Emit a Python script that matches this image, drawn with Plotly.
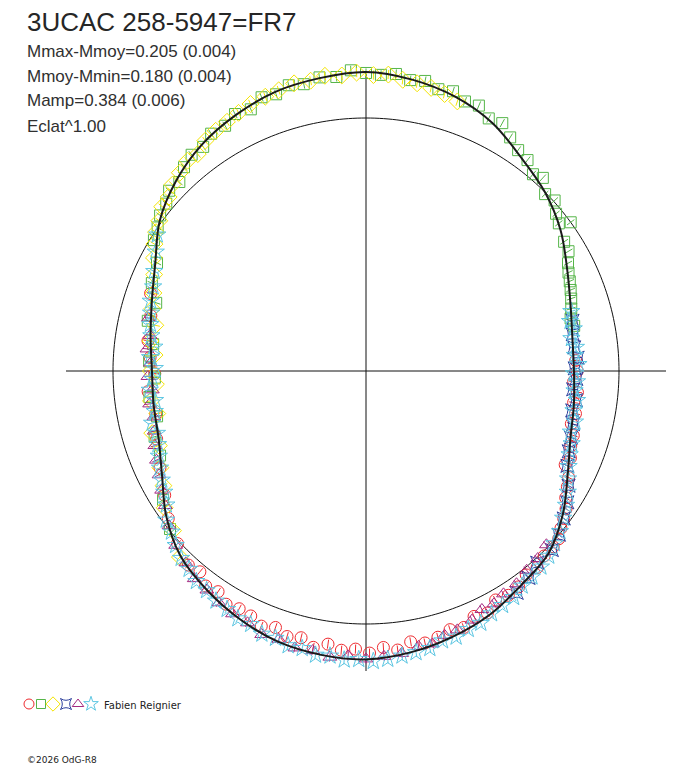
import numpy as np
import plotly.graph_objects as go

# relative brightness (flux / mean flux) against phase, one pair of lists per observer set
red_phase = [0.242, 0.250, 0.258, 0.266, 0.274, 0.282, 0.290, 0.298, 0.306, 0.314, 0.320, 0.327,
             0.333, 0.340, 0.346, 0.352, 0.358, 0.364, 0.370, 0.378, 0.386, 0.394, 0.402, 0.410,
             0.418, 0.426, 0.434, 0.442, 0.450, 0.458, 0.466, 0.474, 0.482, 0.490, 0.498, 0.506,
             0.514, 0.522, 0.530, 0.538, 0.546, 0.554, 0.562, 0.570, 0.578, 0.586, 0.594, 0.602,
             0.610, 0.618, 0.632, 0.648, 0.662, 0.680, 0.700, 0.718, 0.735, 0.748, 0.760, 0.772,
             0.790, 0.805]
red_flux = [0.830, 0.835, 0.822, 0.840, 0.830, 0.845, 0.838, 0.858, 0.862, 0.878, 0.870, 0.905,
            0.918, 0.935, 0.960, 0.975, 0.990, 1.010, 1.015, 1.015, 1.030, 1.025, 1.045, 1.050,
            1.040, 1.070, 1.060, 1.085, 1.075, 1.090, 1.100, 1.085, 1.110, 1.095, 1.115, 1.100,
            1.108, 1.090, 1.112, 1.085, 1.095, 1.075, 1.090, 1.070, 1.065, 1.075, 1.050, 1.060,
            1.030, 1.040, 1.010, 0.975, 0.935, 0.900, 0.870, 0.848, 0.865, 0.835, 0.855, 0.870,
            0.878, 0.905]

green_phase = [0.642, 0.660, 0.688, 0.702, 0.716, 0.731, 0.745, 0.757, 0.770, 0.786, 0.800, 0.812,
               0.826, 0.838, 0.846, 0.853, 0.861, 0.868, 0.876, 0.884, 0.892, 0.900, 0.908, 0.917,
               0.925, 0.934, 0.942, 0.950, 0.958, 0.966, 0.975, 0.984, 0.992, 0.000, 0.008, 0.016,
               0.024, 0.032, 0.040, 0.048, 0.056, 0.064, 0.072, 0.080, 0.088, 0.096, 0.104, 0.112,
               0.118, 0.126, 0.133, 0.140, 0.146, 0.150, 0.158, 0.165, 0.172, 0.178, 0.184, 0.190,
               0.196, 0.203, 0.210, 0.216]
green_flux = [0.995, 0.950, 0.880, 0.875, 0.845, 0.862, 0.835, 0.858, 0.848, 0.885, 0.872, 0.915,
              0.930, 0.985, 1.000, 1.020, 1.030, 1.055, 1.050, 1.080, 1.098, 1.095, 1.120, 1.118,
              1.140, 1.130, 1.158, 1.150, 1.170, 1.160, 1.175, 1.168, 1.190, 1.178, 1.172, 1.180,
              1.163, 1.170, 1.150, 1.158, 1.135, 1.140, 1.110, 1.118, 1.085, 1.060, 1.050, 1.020,
              1.035, 0.995, 1.005, 0.975, 0.960, 1.000, 0.935, 0.930, 0.905, 0.890, 0.880, 0.870,
              0.860, 0.848, 0.835, 0.842]

yellow_phase = [0.625, 0.640, 0.655, 0.668, 0.680, 0.695, 0.705, 0.718, 0.728, 0.740, 0.750, 0.762,
                0.772, 0.784, 0.795, 0.806, 0.818, 0.828, 0.836, 0.843, 0.850, 0.858, 0.865, 0.872,
                0.880, 0.888, 0.895, 0.903, 0.911, 0.919, 0.927, 0.935, 0.944, 0.952, 0.961, 0.970,
                0.978, 0.987, 0.995, 0.004, 0.012, 0.020, 0.028, 0.036, 0.044, 0.052]
yellow_flux = [1.040, 0.990, 0.962, 0.920, 0.898, 0.870, 0.880, 0.842, 0.858, 0.832, 0.850, 0.838,
               0.860, 0.852, 0.880, 0.895, 0.920, 0.950, 0.975, 0.995, 1.010, 1.035, 1.040, 1.062,
               1.075, 1.090, 1.085, 1.110, 1.120, 1.128, 1.138, 1.150, 1.155, 1.162, 1.172, 1.168,
               1.178, 1.172, 1.180, 1.170, 1.175, 1.160, 1.155, 1.148, 1.138, 1.125]

navy_phase = [0.212, 0.222, 0.232, 0.240, 0.248, 0.256, 0.264, 0.272, 0.280, 0.290, 0.300, 0.310,
              0.320, 0.332, 0.342, 0.352, 0.362, 0.372, 0.384, 0.394, 0.405]
navy_flux = [0.840, 0.830, 0.828, 0.838, 0.825, 0.832, 0.822, 0.838, 0.830, 0.845, 0.852, 0.862,
             0.880, 0.920, 0.950, 0.975, 1.000, 1.020, 1.016, 1.040, 1.060]

purple_phase = [0.372, 0.382, 0.392, 0.402, 0.412, 0.420, 0.428, 0.436, 0.446, 0.454, 0.462, 0.470,
                0.480, 0.490, 0.500, 0.510, 0.520, 0.530, 0.540, 0.550, 0.560, 0.570, 0.580, 0.590,
                0.600, 0.610, 0.620, 0.632, 0.644, 0.656, 0.666, 0.676, 0.686, 0.696, 0.706, 0.716,
                0.726, 0.736, 0.746, 0.756, 0.766, 0.776, 0.788]
purple_flux = [0.990, 1.005, 1.012, 1.030, 1.035, 1.050, 1.048, 1.070, 1.085, 1.090, 1.110, 1.108,
               1.125, 1.130, 1.138, 1.128, 1.140, 1.125, 1.130, 1.115, 1.120, 1.100, 1.095, 1.085,
               1.070, 1.065, 1.040, 1.020, 0.990, 0.955, 0.935, 0.915, 0.900, 0.885, 0.870, 0.858,
               0.865, 0.848, 0.862, 0.852, 0.870, 0.865, 0.885]

cyan_phase = [0.205, 0.212, 0.218, 0.225, 0.232, 0.238, 0.245, 0.252, 0.258, 0.265, 0.272, 0.280,
              0.288, 0.296, 0.304, 0.312, 0.320, 0.328, 0.336, 0.344, 0.352, 0.360, 0.368, 0.376,
              0.384, 0.392, 0.400, 0.408, 0.416, 0.424, 0.432, 0.440, 0.448, 0.456, 0.464, 0.472,
              0.480, 0.488, 0.496, 0.504, 0.512, 0.520, 0.528, 0.536, 0.544, 0.552, 0.560, 0.568,
              0.576, 0.584, 0.592, 0.600, 0.608, 0.616, 0.624, 0.632, 0.640, 0.648, 0.656, 0.664,
              0.672, 0.680, 0.688, 0.696, 0.704, 0.712, 0.720, 0.728, 0.736, 0.744, 0.752, 0.760,
              0.768, 0.776, 0.784, 0.792, 0.800, 0.810, 0.820, 0.832, 0.842]
cyan_flux = [0.845, 0.830, 0.838, 0.822, 0.835, 0.828, 0.840, 0.822, 0.835, 0.828, 0.842, 0.835,
             0.850, 0.845, 0.862, 0.870, 0.885, 0.905, 0.930, 0.952, 0.972, 0.995, 1.010, 1.028,
             1.038, 1.045, 1.050, 1.068, 1.072, 1.080, 1.095, 1.098, 1.110, 1.108, 1.125, 1.130,
             1.135, 1.142, 1.148, 1.140, 1.145, 1.135, 1.140, 1.125, 1.128, 1.115, 1.118, 1.100,
             1.102, 1.090, 1.085, 1.072, 1.068, 1.050, 1.040, 1.020, 0.998, 0.985, 0.950, 0.930,
             0.915, 0.900, 0.885, 0.872, 0.862, 0.870, 0.850, 0.842, 0.858, 0.845, 0.835, 0.855,
             0.842, 0.860, 0.872, 0.880, 0.895, 0.905, 0.925, 0.955, 0.985]

# mean light curve (fit)
fit_phase = [0.000, 0.025, 0.050, 0.075, 0.100, 0.125, 0.150, 0.175, 0.200, 0.225, 0.250, 0.275,
             0.300, 0.325, 0.350, 0.375, 0.400, 0.425, 0.450, 0.475, 0.500, 0.525, 0.550, 0.575,
             0.600, 0.625, 0.650, 0.675, 0.700, 0.725, 0.750, 0.775, 0.800, 0.825, 0.850, 0.875,
             0.900, 0.925, 0.950, 0.975, 1.000]
fit_flux = [1.182, 1.166, 1.140, 1.100, 1.043, 1.000, 0.950, 0.892, 0.850, 0.826, 0.822, 0.832,
            0.850, 0.895, 0.962, 1.020, 1.045, 1.080, 1.105, 1.126, 1.140, 1.136, 1.125, 1.100,
            1.070, 1.036, 0.976, 0.905, 0.862, 0.850, 0.846, 0.862, 0.890, 0.935, 1.008, 1.062,
            1.105, 1.135, 1.160, 1.172, 1.182]

title = "3UCAC 258-5947=FR7"
stats = ["Mmax-Mmoy=0.205 (0.004)", "Mmoy-Mmin=0.180 (0.004)",
         "Mamp=0.384 (0.006)", "Eclat^1.00"]
observer = "Fabien Reignier"
credit = "©2026 OdG-R8"

series = [
    (red_phase, red_flux, "circle-open", "#ee2a2f", 12),
    (green_phase, green_flux, "square-open", "#55b548", 11),
    (yellow_phase, yellow_flux, "diamond-open", "#f4e400", 13),
    (navy_phase, navy_flux, "star-square-open", "#2d3f9c", 12),
    (purple_phase, purple_flux, "triangle-up-open", "#a42a80", 12),
    (cyan_phase, cyan_flux, "star-open", "#5cc6e2", 13),
]

W, H = 688, 768
cx, cy = 366, 371          # centre of the polar plot, px
unit = 253                 # px for flux ratio 1 (the mean circle)
rmax = 1.25
axis_len = 300 / unit
err = 0.018

fig = go.Figure()

# reference circle and cross
ring = np.linspace(0, 360, 361)
fig.add_trace(go.Scatterpolar(r=np.ones_like(ring), theta=ring, mode="lines",
                              line=dict(color="#111", width=1), hoverinfo="skip"))
for a in (0, 90):
    fig.add_trace(go.Scatterpolar(r=[axis_len, 0, axis_len], theta=[a, 0, a + 180], mode="lines",
                                  line=dict(color="#111", width=1), hoverinfo="skip"))

for ph, fl, sym, col, sz in series:
    th = [p * 360 for p in ph]
    # radial error ticks
    rr, tt = [], []
    for t, f in zip(th, fl):
        rr += [f - err, f + err, None]
        tt += [t, t, None]
    fig.add_trace(go.Scatterpolar(r=rr, theta=tt, mode="lines", cliponaxis=False,
                                  line=dict(color=col, width=1), hoverinfo="skip"))
    fig.add_trace(go.Scatterpolar(r=fl, theta=th, mode="markers", cliponaxis=False,
                                  marker=dict(symbol=sym, size=sz, color=col,
                                              line=dict(color=col, width=1))))

fig.add_trace(go.Scatterpolar(r=fit_flux, theta=[p * 360 for p in fit_phase], mode="lines",
                              line=dict(color="#1a1a1a", width=2, shape="spline"),
                              cliponaxis=False, hoverinfo="skip"))

# legend row of symbols at the bottom
lx = [29, 41, 53, 66, 78, 91]
for (ph, fl, sym, col, sz), x in zip(series, lx):
    fig.add_trace(go.Scatter(x=[x], y=[704], mode="markers", cliponaxis=False,
                             marker=dict(symbol=sym, size=sz - 2, color=col,
                                         line=dict(color=col, width=1))))

fig.update_layout(
    width=W, height=H, autosize=False, showlegend=False,
    margin=dict(l=0, r=0, t=0, b=0),
    paper_bgcolor="white", plot_bgcolor="white",
    polar=dict(
        domain=dict(x=[(cx - rmax * unit) / W, (cx + rmax * unit) / W],
                    y=[1 - (cy + rmax * unit) / H, 1 - (cy - rmax * unit) / H]),
        bgcolor="rgba(0,0,0,0)",
        radialaxis=dict(range=[0, rmax], visible=False, showgrid=False),
        angularaxis=dict(rotation=90, direction="clockwise", visible=False, showgrid=False),
    ),
    xaxis=dict(range=[0, W], visible=False, domain=[0, 1], fixedrange=True),
    yaxis=dict(range=[H, 0], visible=False, domain=[0, 1], fixedrange=True),
)

fig.add_annotation(text=title, xref="paper", yref="paper", x=25 / W, y=1 - 22 / H,
                   xanchor="left", yanchor="middle", showarrow=False,
                   font=dict(family="Liberation Sans, Arial", size=26, color="#262626"))
for i, s in enumerate(stats):
    fig.add_annotation(text=s, xref="paper", yref="paper", x=25 / W, y=1 - (51 + 25 * i) / H,
                       xanchor="left", yanchor="middle", showarrow=False,
                       font=dict(family="Liberation Sans, Arial", size=17, color="#303030"))
fig.add_annotation(text=observer, xref="paper", yref="paper", x=102 / W, y=1 - 705 / H,
                   xanchor="left", yanchor="middle", showarrow=False,
                   font=dict(family="DejaVu Sans", size=10, color="#222"))
fig.add_annotation(text=credit, xref="paper", yref="paper", x=25 / W, y=1 - 760 / H,
                   xanchor="left", yanchor="middle", showarrow=False,
                   font=dict(family="DejaVu Sans", size=9, color="#222"))

fig.write_html("out.html", config={"displayModeBar": False},
               post_script="document.body.style.margin='0';")
